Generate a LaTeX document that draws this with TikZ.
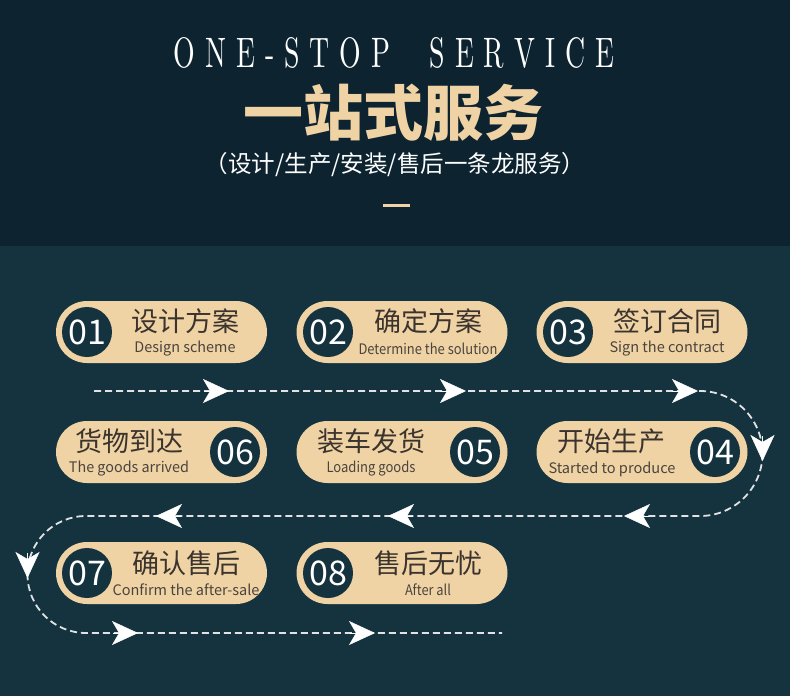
\documentclass[tikz,border=0pt]{standalone}
\usepackage{fontspec}
\usepackage{graphicx}
\usetikzlibrary{arrows.meta}
\newfontfamily\cjk{Noto Sans CJK SC}
\newcommand\ls{\hspace{0.36em}}
\definecolor{hdbg}{HTML}{0D2430}
\definecolor{lowbg}{HTML}{14333F}
\definecolor{tan}{HTML}{F0D3A5}
\definecolor{cntext}{HTML}{3B342E}
\definecolor{entext}{HTML}{4A443D}
\definecolor{dashcol}{HTML}{E2E2E2}
\tikzset{
  pill/.style={draw=none, fill=tan, rounded corners=31pt, minimum width=211pt, minimum height=62pt, inner sep=0pt},
  num/.style={circle, fill=lowbg, minimum size=50pt, inner sep=0pt, text=white, font=\cjk\fontsize{34}{34}\selectfont},
  cn/.style={inner sep=0pt, text=cntext, font=\cjk\fontsize{27}{27}\selectfont},
  en/.style={inner sep=0pt, text=entext, font=\cjk\fontsize{14.5}{14.5}\selectfont},
  dashline/.style={draw=dashcol, line width=1.8pt, dash pattern=on 7pt off 4pt},
  tiparrow/.style={draw=white, fill=white, line width=0.4pt, -{Stealth[length=26pt,width=24pt,inset=7pt]}},
}
\newcommand\fitw[2]{\resizebox{#1}{\height}{#2}}
\begin{document}
\begin{tikzpicture}[x=1pt,y=-1pt]
\useasboundingbox (0,0) rectangle (790,696);
\fill[lowbg] (0,0) rectangle (790,696);
\fill[hdbg] (0,0) rectangle (790,246);
% header
\node[inner sep=0pt, text=white] (eng) at (394,53) {\fitw{441pt}{\resizebox{!}{30pt}{\rmfamily O\ls N\ls E\ls -\ls S\ls T\ls O\ls P\hspace{1.4em}S\ls E\ls R\ls V\ls I\ls C\ls E}}};
\node[inner sep=0pt, text=tan, font=\cjk\bfseries\fontsize{60}{60}\selectfont] (title) at (393,113) {一站式服务};
\node[inner sep=0pt, text=white, font=\cjk\fontsize{23.5}{23.5}\selectfont] (sub) at (395,165) {（设计/生产/安装/售后一条龙服务）};
\fill[tan] (383,204) rectangle (410,206.5);
% row 1
\node[pill] (p1) at (161.5,332) {};
\node[pill] (p2) at (402,332) {};
\node[pill] (p3) at (642,332) {};
\node[num] (n1) at (87,332) {01};
\node[num] (n2) at (328,332) {02};
\node[num] (n3) at (568,332) {03};
\node[cn] (c1) at (185,321) {设计方案};
\node[cn] (c2) at (428,321) {确定方案};
\node[cn] (c3) at (667,321) {签订合同};
\node[en] (e1) at (185,349) {\fitw{101pt}{Design scheme}};
\node[en] (e2) at (428,349) {\fitw{139pt}{Determine the solution}};
\node[en] (e3) at (667,349) {\fitw{115pt}{Sign the contract}};
% row 2
\node[pill] (p6) at (161.5,452) {};
\node[pill] (p5) at (402,452) {};
\node[pill] (p4) at (642,452) {};
\node[num] (n6) at (235,452) {06};
\node[num] (n5) at (475,452) {05};
\node[num] (n4) at (715,452) {04};
\node[cn] (c6) at (129,441.5) {货物到达};
\node[cn] (c5) at (371,441.5) {装车发货};
\node[cn] (c4) at (611,441.5) {开始生产};
\node[en] (e6) at (129,469) {\fitw{120pt}{The goods arrived}};
\node[en] (e5) at (371,469) {\fitw{89pt}{Loading goods}};
\node[en] (e4) at (612,469) {\fitw{127pt}{Started to produce}};
% row 3
\node[pill] (p7) at (161.5,573) {};
\node[pill] (p8) at (402,573) {};
\node[num] (n7) at (87,573) {07};
\node[num] (n8) at (328,573) {08};
\node[cn] (c7) at (186,563) {确认售后};
\node[cn] (c8) at (428,563) {售后无忧};
\node[en] (e7) at (186,590) {\fitw{147pt}{Confirm the after-sale}};
\node[en] (e8) at (428,590) {\fitw{46pt}{After all}};
% dashed route
\coordinate (s1) at (94,391);
\coordinate (r1) at (700,391);
\coordinate (rm) at (762.5,453.5);
\coordinate (r2) at (700,516);
\coordinate (l2) at (86,516);
\coordinate (lm) at (27.5,574.5);
\coordinate (l3) at (86,633);
\coordinate (f3) at (502,633);
\draw[dashline] (s1) -- (r1) .. controls +(34.5,0) and +(0,-34.5) .. (rm) .. controls +(0,34.5) and +(34.5,0) .. (r2) -- (l2) .. controls +(-32.3,0) and +(0,-32.3) .. (lm) .. controls +(0,32.3) and +(-32.3,0) .. (l3) -- (f3);
% arrowheads
\coordinate (a1b) at (204,391); \coordinate (a1t) at (229,391);
\coordinate (a2b) at (440,391); \coordinate (a2t) at (466,391);
\coordinate (a3b) at (672,391); \coordinate (a3t) at (698,391);
\coordinate (a4b) at (762.5,436); \coordinate (a4t) at (762.5,461);
\coordinate (a5b) at (649,516); \coordinate (a5t) at (624,516);
\coordinate (a6b) at (413,516); \coordinate (a6t) at (388,516);
\coordinate (a7b) at (181,516); \coordinate (a7t) at (156,516);
\coordinate (a8b) at (27.5,553); \coordinate (a8t) at (27.5,578);
\coordinate (a9b) at (113,633); \coordinate (a9t) at (138,633);
\coordinate (a10b) at (350,633); \coordinate (a10t) at (375,633);
\foreach \i in {1,...,10} {\draw[tiparrow] (a\i b) -- (a\i t);}
\end{tikzpicture}
\end{document}
